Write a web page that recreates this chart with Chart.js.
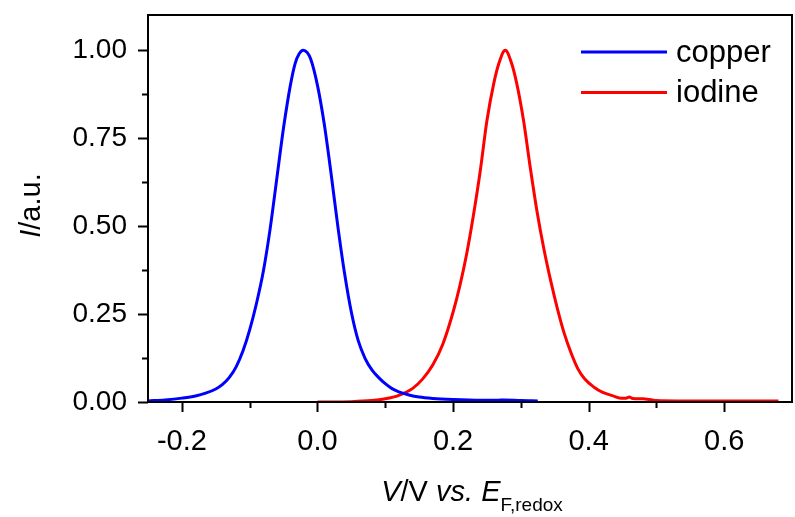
<!DOCTYPE html>
<html>
<head>
<meta charset="utf-8">
<script src="https://cdn.jsdelivr.net/npm/chart.js@4/dist/chart.umd.min.js"></script>
<style>
    html, body { margin: 0; padding: 0; background: #fff; }
</style>
</head>
<body>
<canvas id="lineChart" width="795" height="517"></canvas>
<script>
// copper: potential (V) and normalised intensity
var copperV = [-0.25, -0.225, -0.20, -0.18, -0.165, -0.15, -0.14, -0.13, -0.12, -0.11, -0.10, -0.09, -0.08, -0.07, -0.06, -0.05, -0.04, -0.033, -0.027, -0.021, -0.015, -0.01, 0.0, 0.01, 0.02, 0.03, 0.04, 0.05, 0.06, 0.07, 0.08, 0.09, 0.10, 0.11, 0.12, 0.135, 0.15, 0.17, 0.20, 0.24, 0.265, 0.275, 0.30, 0.325];
var copperI = [0.003, 0.006, 0.011, 0.017, 0.025, 0.037, 0.050, 0.070, 0.100, 0.145, 0.205, 0.280, 0.370, 0.490, 0.635, 0.780, 0.900, 0.962, 0.990, 1.000, 0.993, 0.975, 0.900, 0.790, 0.650, 0.500, 0.365, 0.255, 0.175, 0.125, 0.092, 0.070, 0.052, 0.038, 0.029, 0.020, 0.014, 0.010, 0.007, 0.005, 0.005, 0.006, 0.004, 0.003];
// iodine
var iodineV = [0.0, 0.05, 0.08, 0.10, 0.12, 0.14, 0.155, 0.17, 0.185, 0.20, 0.21, 0.22, 0.23, 0.24, 0.25, 0.26, 0.268, 0.277, 0.286, 0.294, 0.304, 0.314, 0.324, 0.334, 0.344, 0.354, 0.364, 0.374, 0.384, 0.394, 0.408, 0.42, 0.435, 0.4475, 0.455, 0.46, 0.465, 0.48, 0.49, 0.50, 0.53, 0.60, 0.68];
var iodineI = [0.0, 0.001, 0.004, 0.009, 0.019, 0.038, 0.065, 0.105, 0.165, 0.255, 0.330, 0.420, 0.530, 0.655, 0.800, 0.905, 0.965, 1.000, 0.965, 0.905, 0.800, 0.665, 0.540, 0.435, 0.345, 0.265, 0.195, 0.140, 0.095, 0.066, 0.042, 0.028, 0.018, 0.011, 0.011, 0.014, 0.010, 0.009, 0.007, 0.004, 0.003, 0.003, 0.003];

var seriesLabels = ['copper', 'iodine'];
var seriesColors = ['#0000ff', '#ff0000'];

var xMajorTicks = [-0.2, 0.0, 0.2, 0.4, 0.6];
var xMinorTicks = [-0.1, 0.1, 0.3, 0.5];
var yMajorTicks = [0.0, 0.25, 0.50, 0.75, 1.00];
var yMinorTicks = [0.125, 0.375, 0.625, 0.875];

var FONT = 'Liberation Sans, Arial, sans-serif';

function toPoints(xs, ys) {
    return xs.map(function(v, i) {
        return { x: v, y: ys[i] };
    });
}

// axis box, tick marks, titles and legend
var frame = {
    id: 'frame',
    afterDraw: function(chart) {
        var ctx = chart.ctx, a = chart.chartArea;
        var sx = chart.scales.x, sy = chart.scales.y;
        ctx.save();
        ctx.strokeStyle = '#000';
        ctx.lineWidth = 2;
        ctx.strokeRect(a.left, a.top, a.right - a.left, a.bottom - a.top);

        ctx.beginPath();
        xMajorTicks.forEach(function(v) {
            var p = Math.round(sx.getPixelForValue(v)) + 0.5;
            ctx.moveTo(p, a.bottom); ctx.lineTo(p, a.bottom + 10);
        });
        xMinorTicks.forEach(function(v) {
            var p = Math.round(sx.getPixelForValue(v)) + 0.5;
            ctx.moveTo(p, a.bottom); ctx.lineTo(p, a.bottom + 6);
        });
        yMajorTicks.forEach(function(v) {
            var p = Math.round(sy.getPixelForValue(v)) + 0.5;
            ctx.moveTo(a.left, p); ctx.lineTo(a.left - 10, p);
        });
        yMinorTicks.forEach(function(v) {
            var p = Math.round(sy.getPixelForValue(v)) + 0.5;
            ctx.moveTo(a.left, p); ctx.lineTo(a.left - 6, p);
        });
        ctx.stroke();

        ctx.fillStyle = '#000';
        ctx.textBaseline = 'alphabetic';

        // x title: V/V vs. E_F,redox
        var parts = [
            { t: 'V', f: 'italic 29px ' + FONT, dy: 0 },
            { t: '/V ', f: '29px ' + FONT, dy: 0 },
            { t: 'vs.', f: 'italic 29px ' + FONT, dy: 0 },
            { t: ' ', f: '29px ' + FONT, dy: 0 },
            { t: 'E', f: 'italic 29px ' + FONT, dy: 0 },
            { t: 'F,redox', f: '19px ' + FONT, dy: 10 }
        ];
        var total = 0;
        parts.forEach(function(p) { ctx.font = p.f; p.w = ctx.measureText(p.t).width; total += p.w; });
        var x = (a.left + a.right) / 2 - total / 2 + 2, base = 501;
        parts.forEach(function(p) {
            ctx.font = p.f;
            ctx.fillText(p.t, x, base + p.dy);
            x += p.w;
        });

        // y title: I/a.u.
        ctx.translate(40, (a.top + a.bottom) / 2 - 3);
        ctx.rotate(-Math.PI / 2);
        var yparts = [
            { t: 'I', f: 'italic 29px ' + FONT },
            { t: '/a.u.', f: '29px ' + FONT }
        ];
        total = 0;
        yparts.forEach(function(p) { ctx.font = p.f; p.w = ctx.measureText(p.t).width; total += p.w; });
        x = -total / 2;
        yparts.forEach(function(p) {
            ctx.font = p.f;
            ctx.fillText(p.t, x, 0);
            x += p.w;
        });
        ctx.setTransform(1, 0, 0, 1, 0, 0);

        // legend
        ctx.font = '31px ' + FONT;
        ctx.textBaseline = 'middle';
        chart.data.datasets.forEach(function(ds, i) {
            var ly = a.top + 37 + i * 40.5;
            ctx.strokeStyle = ds.borderColor;
            ctx.lineWidth = 3;
            ctx.beginPath();
            ctx.moveTo(a.right - 211, ly); ctx.lineTo(a.right - 125, ly);
            ctx.stroke();
            ctx.fillText(ds.label, a.right - 116, ly + 1);
        });
        ctx.restore();
    }
};

var lineCanvas = document.getElementById('lineChart').getContext('2d');
new Chart(lineCanvas, {
    type: 'line',
    data: {
        datasets: [{
            label: seriesLabels[0],
            data: toPoints(copperV, copperI),
            borderColor: seriesColors[0],
            borderWidth: 3,
            pointRadius: 0,
            cubicInterpolationMode: 'monotone'
        }, {
            label: seriesLabels[1],
            data: toPoints(iodineV, iodineI),
            borderColor: seriesColors[1],
            borderWidth: 3,
            pointRadius: 0,
            cubicInterpolationMode: 'monotone'
        }]
    },
    options: {
        responsive: false,
        animation: false,
        devicePixelRatio: 1,
        layout: { padding: { left: 0, top: 15, right: 3, bottom: 0 } },
        plugins: { legend: { display: false }, tooltip: { enabled: false } },
        scales: {
            x: {
                type: 'linear',
                min: -0.25,
                max: 0.70,
                grid: { display: false },
                border: { display: false },
                afterBuildTicks: function(scale) {
                    scale.ticks = xMajorTicks.map(function(v) { return { value: v }; });
                },
                afterFit: function(scale) {
                    scale.height = 115;
                    scale.paddingLeft = 0;
                    scale.paddingRight = 0;
                },
                ticks: {
                    color: '#000',
                    padding: 15,
                    maxRotation: 0,
                    font: { family: FONT, size: 29 },
                    callback: function(v) { return v.toFixed(1); }
                }
            },
            y: {
                type: 'linear',
                min: 0,
                max: 1.1,
                grid: { display: false },
                border: { display: false },
                afterBuildTicks: function(scale) {
                    scale.ticks = yMajorTicks.map(function(v) { return { value: v }; });
                },
                afterFit: function(scale) {
                    scale.width = 148;
                    scale.paddingTop = 0;
                    scale.paddingBottom = 0;
                },
                ticks: {
                    color: '#000',
                    padding: 13,
                    font: { family: FONT, size: 28 },
                    callback: function(v) { return v.toFixed(2); }
                }
            }
        }
    },
    plugins: [frame]
});
</script>
</body>
</html>
